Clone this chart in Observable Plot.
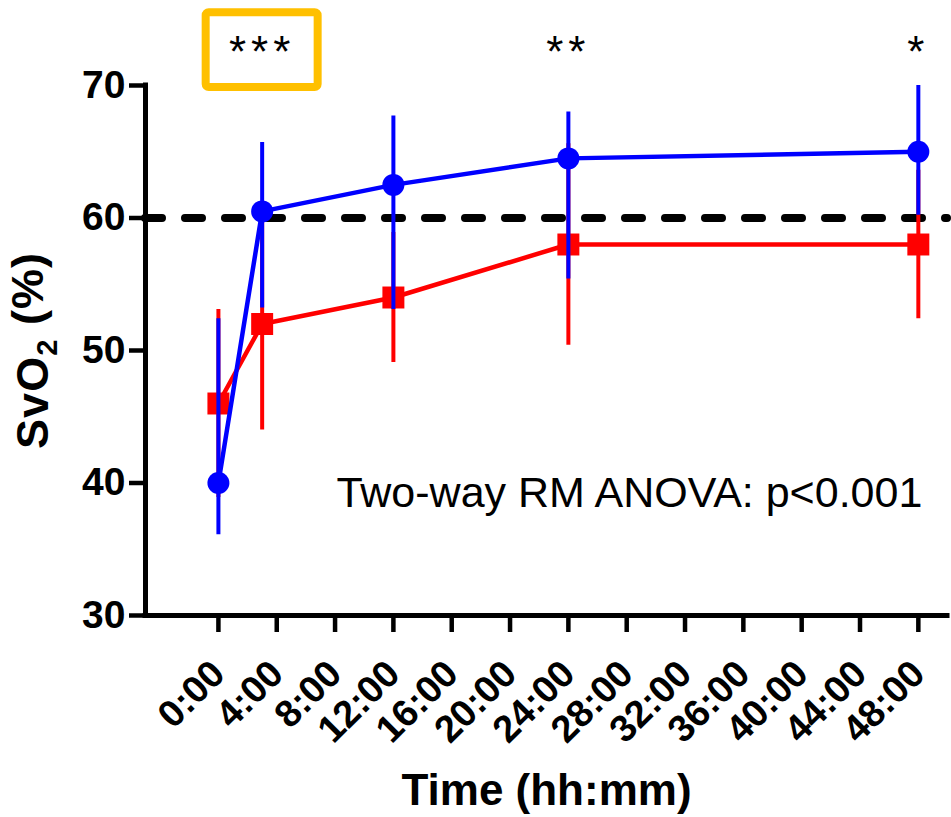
<!DOCTYPE html>
<html><head><meta charset="utf-8">
<script src="https://cdn.jsdelivr.net/npm/d3@7"></script>
<script src="https://cdn.jsdelivr.net/npm/@observablehq/plot@0.6"></script>
<style>body{margin:0;background:#fff}</style>
</head><body><div id="chart"></div>
<script>
// ---- data ----
const hours = [0, 3, 12, 24, 48];
const blueMean = [40, 60.5, 62.5, 64.5, 65];
const blueLow = [36.1, 53.2, 53.1, 55.4, 60.2];
const blueHigh = [52.4, 65.7, 67.7, 68.0, 70.0];
const redMean = [46, 52, 54, 58, 58];
const redLow = [38.9, 44.0, 49.1, 50.4, 52.4];
const redHigh = [53.1, 60.0, 58.9, 65.6, 63.6];
const xTicks = [0, 4, 8, 12, 16, 20, 24, 28, 32, 36, 40, 44, 48];
const yTicks = [30, 40, 50, 60, 70];
const threshold = [60];
const starHours = [3, 24, 48];
const starLabels = ["***", "**", "*"];
const boxX = [-0.84, 6.84];
const boxY = [69.85, 75.5];
const anovaText = ["Two-way RM ANOVA: p<0.001"];
const xTitle = ["Time (hh:mm)"];
const yTitle = ["SvO2 (%)"];

const blue = hours.map((h, i) => ({h, m: blueMean[i], lo: blueLow[i], hi: blueHigh[i]}));
const red = hours.map((h, i) => ({h, m: redMean[i], lo: redLow[i], hi: redHigh[i]}));
const stars = starHours.map((h, i) => ({h, t: starLabels[i]}));
const RED = "#ff0000", BLUE = "#0000ff";
const font = "'Liberation Sans', Arial, Helvetica, sans-serif";

const chart = Plot.plot({
  width: 951, height: 817,
  marginLeft: 145, marginRight: 4, marginTop: 85, marginBottom: 202,
  style: {fontFamily: font, background: "white", color: "black", overflow: "visible"},
  x: {domain: [-5, 50]},
  y: {domain: [30, 70]},
  marks: [
    Plot.ruleY(threshold, {stroke: "black", strokeWidth: 8, strokeDasharray: "17,23", strokeLinecap: "round"}),
    Plot.ruleX(red, {x: "h", y1: "lo", y2: "hi", stroke: RED, strokeWidth: 4}),
    Plot.line(red, {x: "h", y: "m", stroke: RED, strokeWidth: 4.5}),
    Plot.dot(red, {x: "h", y: "m", symbol: "square", r: 12.4, fill: RED, stroke: null}),
    Plot.ruleX(blue, {x: "h", y1: "lo", y2: "hi", stroke: BLUE, strokeWidth: 4}),
    Plot.line(blue, {x: "h", y: "m", stroke: BLUE, strokeWidth: 4.5}),
    Plot.dot(blue, {x: "h", y: "m", symbol: "circle", r: 11, fill: BLUE, stroke: null}),
    Plot.ruleX([-5], {stroke: "black", strokeWidth: 5, strokeLinecap: "square"}),
    Plot.ruleY([30], {stroke: "black", strokeWidth: 5, strokeLinecap: "square"}),
    Plot.axisY(yTicks, {tickSize: 16, tickPadding: 4, fontSize: 39, fontWeight: "bold", strokeWidth: 4.5, label: null, tickFormat: d => String(d)}),
    Plot.axisX(xTicks, {tickSize: 17, tickPadding: 35, tickRotate: -45, lineAnchor: "middle", fontSize: 38, fontWeight: "bold", strokeWidth: 4.5, label: null, tickFormat: h => `${h}:00`}),
    Plot.text(xTitle, {text: d => d, frameAnchor: "bottom", dy: 175, fontSize: 44, fontWeight: "bold", lineAnchor: "middle"}),
    Plot.text(yTitle, {text: d => d, frameAnchor: "left", textAnchor: "middle", dx: -112, dy: 0, rotate: -90, fontSize: 45, fontWeight: "bold", lineAnchor: "middle", className: "ytitle"}),
    Plot.text(anovaText, {text: d => d, x: () => 48, y: () => 40, dx: 4, dy: 10, textAnchor: "end", lineAnchor: "middle", fontSize: 43}),
    Plot.text(stars, {x: "h", y: () => 70, text: "t", dy: -33, fontSize: 44, lineAnchor: "middle", className: "stars"}),
    Plot.rect([0], {x1: () => boxX[0], x2: () => boxX[1], y1: () => boxY[0], y2: () => boxY[1], fill: "none", stroke: "#ffc000", strokeWidth: 8, rx: 3})
  ]
});
document.getElementById("chart").appendChild(chart);

// subscript "2" in the y title
d3.select(chart).selectAll("g.ytitle text").each(function() {
  const t = d3.select(this);
  t.text(null);
  t.style("letter-spacing", "1px");
  t.append("tspan").text("SvO");
  t.append("tspan").attr("font-size", "0.65em").attr("dy", "0.3em").text("2");
  t.append("tspan").attr("dy", "-0.3em").text(" (%)");
});
d3.select(chart).selectAll("g.stars text").style("letter-spacing", "5px");
</script>
</body></html>
